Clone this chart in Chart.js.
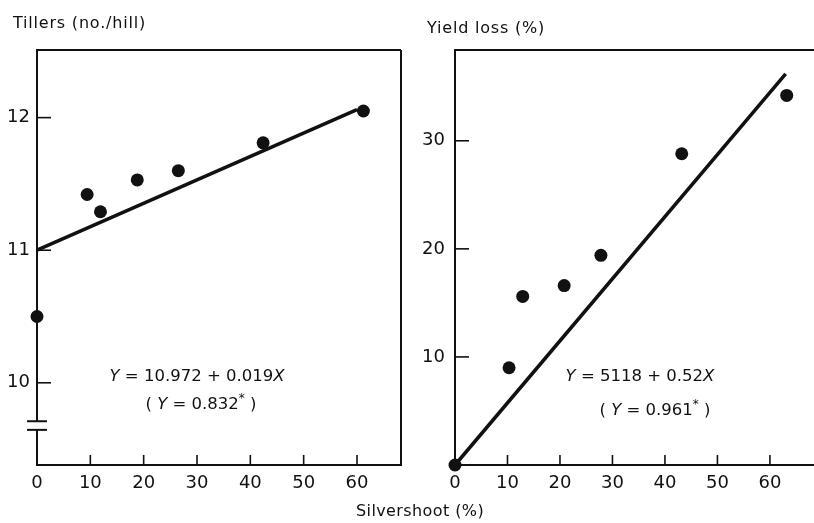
<!DOCTYPE html>
<html>
<head>
<meta charset="utf-8">
<script src="https://cdn.jsdelivr.net/npm/chart.js@4"></script>
<style>
  html, body { margin: 0; padding: 0; background: #fff; }
  #wrap { position: relative; width: 814px; height: 523px; overflow: hidden;
          font-family: "DejaVu Sans", sans-serif; color: #111; }
  canvas { position: absolute; left: 0; top: 0; }
  .lbl { position: absolute; white-space: nowrap; font-size: 16px; letter-spacing: 0.8px; transform: translateY(-50%); }
  .eq { position: absolute; white-space: nowrap; font-size: 16.5px; transform: translate(-50%, -50%); }
  .eq i { font-style: italic; }
  .eq sup { font-size: 12px; }
</style>
</head>
<body>
<div id="wrap">
  <canvas id="tillers" width="814" height="523"></canvas>
  <canvas id="loss" width="814" height="523"></canvas>
  <div class="lbl" style="left:13px;top:22px">Tillers (no./hill)</div>
  <div class="lbl" style="left:427px;top:27px">Yield loss (%)</div>
  <div class="lbl" style="left:356px;top:510px;letter-spacing:0.4px">Silvershoot (%)</div>
  <div class="eq" style="left:197px;top:375px"><i>Y</i> = 10.972 + 0.019<i>X</i></div>
  <div class="eq" style="left:201px;top:402px">( <i>Y</i> = 0.832<sup>*</sup> )</div>
  <div class="eq" style="left:640px;top:375px"><i>Y</i> = 5118 + 0.52<i>X</i></div>
  <div class="eq" style="left:655px;top:408px">( <i>Y</i> = 0.961<sup>*</sup> )</div>
</div>
<script>
// silvershoot (%) ticks shared by both panels
const xTicks = [0, 10, 20, 30, 40, 50, 60];

// left panel: tillers per hill
const tillerYTicks = [10, 11, 12];
const tillerX = [0, 9.4, 11.9, 18.8, 26.5, 42.4, 61.2];
const tillerY = [10.50, 11.42, 11.29, 11.53, 11.60, 11.81, 12.05];
const tillerFitX = [0, 60];
const tillerFitY = [11.0, 12.06];

// right panel: yield loss
const lossYTicks = [10, 20, 30];
const lossX = [0, 10.3, 12.9, 20.8, 27.8, 43.2, 63.2];
const lossY = [0, 9.0, 15.6, 16.6, 19.4, 28.8, 34.2];
const lossFitX = [0, 63];
const lossFitY = [0, 36.2];

const ink = '#111';
const tickFont = { family: 'DejaVu Sans', size: 18 };

// box frame + inward tick marks (+ optional axis break)
const framePlugin = {
  id: 'frame',
  beforeDatasetsDraw(chart, args, opts) {
    const { ctx, chartArea: a, scales } = chart;
    ctx.save();
    ctx.strokeStyle = ink;
    ctx.lineWidth = 2;
    ctx.lineCap = 'butt';
    const seg = (x1, y1, x2, y2) => { ctx.beginPath(); ctx.moveTo(x1, y1); ctx.lineTo(x2, y2); ctx.stroke(); };
    seg(a.left - 1, a.top, a.right, a.top);
    seg(a.left - 1, a.bottom, a.right, a.bottom);
    if (opts.rightSide) seg(a.right, a.top, a.right, a.bottom + 1);
    if (opts.breakAt) {
      const yHi = scales.y.getPixelForValue(opts.breakAt[1]);
      const yLo = scales.y.getPixelForValue(opts.breakAt[0]);
      seg(a.left, a.top, a.left, yHi);
      seg(a.left, yLo, a.left, a.bottom);
      seg(a.left - 10, yHi, a.left + 10, yHi);
      seg(a.left - 10, yLo, a.left + 10, yLo);
    } else {
      seg(a.left, a.top, a.left, a.bottom);
    }
    ctx.lineWidth = 1.6;
    scales.x.ticks.forEach(t => {
      const px = scales.x.getPixelForValue(t.value);
      seg(px, a.bottom, px, a.bottom - 10);
    });
    scales.y.ticks.forEach(t => {
      const py = scales.y.getPixelForValue(t.value);
      seg(a.left, py, a.left + 14, py);
    });
    ctx.restore();
  }
};

function makePanel(id, px, py, fx, fy, yTicks, ranges, pad, yWidth, yPad, frameOpts) {
  return new Chart(document.getElementById(id), {
    type: 'scatter',
    data: {
      datasets: [
        {
          type: 'line',
          data: fx.map((x, i) => ({ x, y: fy[i] })),
          borderColor: ink,
          borderWidth: 3.5,
          pointRadius: 0,
          clip: false
        },
        {
          data: px.map((x, i) => ({ x, y: py[i] })),
          backgroundColor: ink,
          borderWidth: 0,
          pointRadius: 6.5,
          clip: false
        }
      ]
    },
    options: {
      responsive: false,
      animation: false,
      events: [],
      layout: { padding: pad, autoPadding: false },
      plugins: { legend: { display: false }, tooltip: { enabled: false }, frame: frameOpts },
      scales: {
        x: {
          type: 'linear',
          min: ranges.x[0], max: ranges.x[1],
          afterBuildTicks: s => { s.ticks = xTicks.map(v => ({ value: v })); },
          afterFit: s => { s.height = 58; s.paddingLeft = 0; s.paddingRight = 0; },
          grid: { display: false, drawTicks: false },
          border: { display: false },
          ticks: { padding: 8, font: tickFont, color: ink, maxRotation: 0, autoSkip: false }
        },
        y: {
          type: 'linear',
          min: ranges.y[0], max: ranges.y[1],
          afterBuildTicks: s => { s.ticks = yTicks.map(v => ({ value: v })); },
          afterFit: s => { s.width = yWidth; s.paddingTop = 0; s.paddingBottom = 0; },
          grid: { display: false, drawTicks: false },
          border: { display: false },
          ticks: { padding: yPad, font: tickFont, color: ink, autoSkip: false }
        }
      }
    },
    plugins: [framePlugin]
  });
}

makePanel('tillers', tillerX, tillerY, tillerFitX, tillerFitY, tillerYTicks,
  { x: [0, 68.25], y: [9.38, 12.51] },
  { left: 0, right: 413, top: 50, bottom: 0 }, 37, 7,
  { rightSide: true, breakAt: [9.645, 9.71] });

makePanel('loss', lossX, lossY, lossFitX, lossFitY, lossYTicks,
  { x: [0, 68.4], y: [0, 38.4] },
  { left: 407, right: 0, top: 50, bottom: 0 }, 48, 10,
  { rightSide: false });
</script>
</body>
</html>
